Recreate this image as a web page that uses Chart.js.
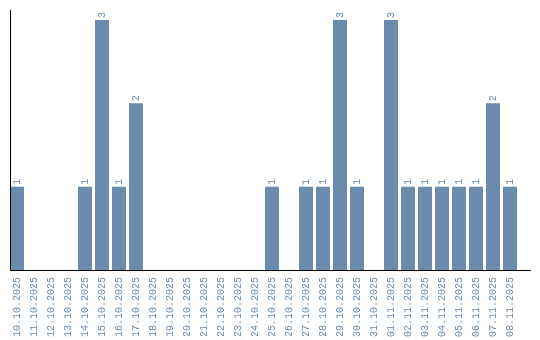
<!DOCTYPE html>
<html>
<head>
<meta charset="utf-8">
<script src="https://cdn.jsdelivr.net/npm/chart.js@4/dist/chart.umd.min.js"></script>
<style>
html,body{margin:0;padding:0;background:#fff;}
canvas{display:block;}
</style>
</head>
<body>
<canvas id="c" width="540" height="340"></canvas>
<script>
const categories = ["10.10.2025","11.10.2025","12.10.2025","13.10.2025","14.10.2025","15.10.2025","16.10.2025","17.10.2025","18.10.2025","19.10.2025","20.10.2025","21.10.2025","22.10.2025","23.10.2025","24.10.2025","25.10.2025","26.10.2025","27.10.2025","28.10.2025","29.10.2025","30.10.2025","31.10.2025","01.11.2025","02.11.2025","03.11.2025","04.11.2025","05.11.2025","06.11.2025","07.11.2025","08.11.2025"];
const values = [1,0,0,0,1,3,1,2,0,0,0,0,0,0,0,1,0,1,1,3,1,0,3,1,1,1,1,1,2,1];

const BAR = '#6a8bab';
const TXT = '#6a8bab';
const FONT = 'Liberation Mono';

const axisLines = {
  id: 'axisLines',
  afterDraw(chart) {
    const ctx = chart.ctx;
    const a = chart.chartArea;
    ctx.save();
    ctx.strokeStyle = '#000';
    ctx.lineWidth = 1;
    ctx.beginPath();
    ctx.moveTo(10.5, a.top);
    ctx.lineTo(10.5, a.bottom + 1);
    ctx.moveTo(10, a.bottom + 0.5);
    ctx.lineTo(531, a.bottom + 0.5);
    ctx.stroke();
    ctx.restore();
  }
};

const valueLabels = {
  id: 'valueLabels',
  afterDatasetsDraw(chart) {
    const ctx = chart.ctx;
    const meta = chart.getDatasetMeta(0);
    ctx.save();
    ctx.fillStyle = TXT;
    ctx.font = '10px "' + FONT + '"';
    ctx.textAlign = 'left';
    ctx.textBaseline = 'middle';
    meta.data.forEach((el, i) => {
      const v = values[i];
      if (!v) return;
      ctx.save();
      ctx.translate(el.x, el.y - 2);
      ctx.rotate(-Math.PI / 2);
      ctx.fillText(String(v), 0, 0);
      ctx.restore();
    });
    ctx.restore();
  }
};

new Chart(document.getElementById('c'), {
  type: 'bar',
  data: {
    labels: categories,
    datasets: [{
      data: values,
      backgroundColor: BAR,
      borderWidth: 0,
      barPercentage: 14/17,
      categoryPercentage: 1
    }]
  },
  options: {
    responsive: false,
    animation: false,
    devicePixelRatio: 1,
    layout: { padding: { left: 8.5, right: 21.5, top: 10, bottom: 0 } },
    plugins: { legend: { display: false }, tooltip: { enabled: false } },
    scales: {
      x: {
        offset: true,
        grid: { display: false, drawTicks: false },
        border: { display: false },
        ticks: {
          color: TXT,
          font: { family: FONT, size: 10 },
          minRotation: 90,
          maxRotation: 90,
          autoSkip: false,
          padding: 7
        },
        afterFit(s) { s.height = 70; }
      },
      y: {
        display: false,
        min: 0,
        max: 3.12
      }
    }
  },
  plugins: [axisLines, valueLabels]
});
</script>
</body>
</html>
